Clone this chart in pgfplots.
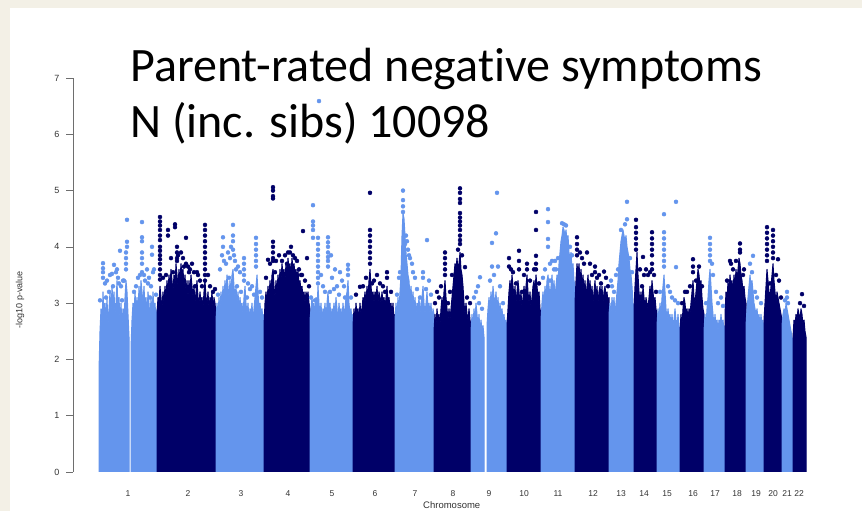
\documentclass[border=0pt]{standalone}
\usepackage{pgfplots}
\pgfplotsset{compat=1.18}
\usepackage{fontspec}
\setmainfont{Liberation Sans}
\newfontfamily\titlefont[Ligatures={NoCommon}]{Carlito}
\definecolor{lblue}{RGB}{100,149,237}
\definecolor{dblue}{RGB}{0,0,104}
\definecolor{beige}{RGB}{243,240,230}
\definecolor{axgray}{RGB}{110,110,110}
\pgfplotsset{
 L/.style={fill=lblue, draw=lblue, line width=1pt, line join=round},
 D/.style={fill=dblue, draw=dblue, line width=1pt, line join=round},
 Lp/.style={only marks, mark=*, mark size=2pt, color=lblue},
 Dp/.style={only marks, mark=*, mark size=2pt, color=dblue},
}
\begin{document}
\begin{tikzpicture}[x=1pt,y=1pt]
\useasboundingbox (0,0) rectangle (862,511);
\fill[beige] (0,0) rectangle (862,511);
\fill[white] (10,0) rectangle (862,503);
\begin{axis}[
 at={(73pt,39pt)}, anchor=south west,
 x=1pt, y=56.286pt,
 xmin=73, xmax=820, ymin=0, ymax=7,
 axis lines=left,
 axis line style={-, draw=axgray, line width=0.6pt},
 x axis line style={draw=none},
 tick align=outside, major tick length=7pt,
 xtick style={draw=none},
 ytick style={draw=axgray, line width=0.6pt},
 ytick={0,1,2,3,4,5,6,7},
 xtick={128,188,241,288,332,375,415,453,489,524,558,593,621,644,667,693,715,737,756,773,787,799},
 xticklabels={1,2,3,4,5,6,7,8,9,10,11,12,13,14,15,16,17,18,19,20,21,22},
 /pgf/number format/assume math mode=true,
 yticklabel style={font=\fontsize{9}{10}\selectfont, text=black!80, xshift=-3pt},
 xticklabel style={font=\fontsize{8.5}{10}\selectfont, text=black!80, yshift=-8pt},
 xlabel={Chromosome}, ylabel={-log10 p-value},
 every axis x label/.style={at={(axis description cs:0.507,0)}, anchor=center, yshift=-33pt, font=\fontsize{9.5}{10}\selectfont, text=black!80},
 every axis y label/.style={at={(axis description cs:-0.071,0.437)}, rotate=90, anchor=center, font=\fontsize{9}{10}\selectfont, text=black!80},
]
% chr1
\addplot[L] coordinates {(99,0)(99,1.8)(100,2.5)(101,2.9)(102,2.6)(103,3.2)(104,2.8)(105,3.0)(106,2.7)(107,3.1)(108,2.6)(109,2.9)(110,3.2)(111,2.8)(112,3.3)(113,3.0)(114,3.2)(115,2.8)(116,3.0)(117,3.4)(118,2.9)(119,3.1)(120,2.7)(121,3.0)(122,2.6)(123,2.9)(124,2.7)(125,3.1)(126,3.4)(127,3.2)(128,2.8)(129,2.4)(129,0)} \closedcycle;
\addplot[L] coordinates {(131,0)(131,2.2)(132,2.7)(133,3.0)(134,2.8)(135,3.2)(136,2.9)(137,3.1)(138,2.8)(139,3.3)(140,3.0)(141,3.4)(142,3.2)(143,3.0)(144,3.3)(145,2.9)(146,3.1)(147,2.8)(148,3.2)(149,3.0)(150,2.7)(151,3.1)(152,2.8)(153,3.2)(154,2.9)(155,3.0)(156,2.7)(157,2.9)(157,0)} \closedcycle;
\addplot[Lp] coordinates {(103,3.45)(103,3.55)(103,3.62)(103,3.71)(105,3.35)(107,3.4)(110,3.5)(112,3.52)(114,3.68)(116,3.55)(117,3.6)(118,3.45)(120,3.93)(121,3.3)(123,3.4)(124,3.4)(126,3.6)(126,3.7)(126,3.8)(126,3.9)(127,4.0)(127,4.09)(127,4.48)
(142,4.44)(142,4.17)(142,4.1)(142,3.9)(142,3.8)(142,3.7)(142,3.55)(138,3.45)(140,3.5)(145,3.4)(147,3.6)(149,3.45)(152,4.0)(152,3.86)(153,3.55)(154,3.6)(151,3.3)
(100,3.05)(106,3.1)(109,3.2)(113,3.3)(119,3.35)(122,3.05)(134,3.2)(136,3.3)(144,3.5)(148,3.35)(150,3.1)(156,3.15)};
% chr2
\addplot[D] coordinates {(157,0)(157,2.8)(158,3.1)(159,3.0)(160,3.3)(161,3.1)(162,2.9)(163,3.2)(164,3.0)(165,3.3)(166,3.1)(167,3.4)(168,3.2)(169,3.5)(170,3.3)(171,3.6)(172,3.4)(173,3.2)(174,3.5)(175,3.3)(176,3.7)(177,3.5)(178,3.3)(179,3.6)(180,3.4)(181,3.7)(182,3.5)(183,3.6)(184,3.3)(185,3.5)(186,3.2)(187,3.4)(188,3.1)(189,3.4)(190,3.2)(191,3.5)(192,3.3)(193,3.1)(194,3.3)(195,3.0)(196,3.2)(197,3.4)(198,3.1)(199,3.0)(200,3.2)(201,3.0)(202,3.1)(203,2.9)(204,3.2)(205,3.4)(206,3.1)(207,3.0)(208,3.2)(209,2.9)(210,3.1)(211,3.0)(212,3.2)(213,2.9)(214,3.1)(215,3.0)(216,2.8)(216,0)} \closedcycle;
\addplot[Dp] coordinates {(160,4.53)(160,4.45)(160,4.38)(160,4.3)(160,4.2)(160,4.12)(160,4.0)(160,3.93)(160,3.85)(160,3.78)(160,3.7)(160,3.6)(160,3.5)(160,3.42)(168,4.3)(168,4.2)(175,4.4)(175,4.35)(177,4.0)(177,3.9)(177,3.8)(177,3.75)(186,4.16)(178,3.85)(181,3.9)(183,3.8)(186,3.7)(188,3.65)(190,3.6)(192,3.7)(194,3.55)(197,3.55)(198,3.5)(205,4.39)(205,4.3)(205,4.2)(205,4.1)(205,4.0)(205,3.9)(205,3.8)(205,3.7)(205,3.6)(205,3.5)(205,3.4)(208,3.5)(210,3.3)
(163,3.45)(166,3.5)(171,3.8)(173,3.55)(184,3.65)(189,3.55)(195,3.3)(200,3.4)(202,3.3)(213,3.2)(215,3.25)};
% chr3
\addplot[L] coordinates {(216,0)(216,2.7)(217,3.0)(218,2.8)(219,3.1)(220,2.9)(221,3.2)(222,3.0)(223,3.3)(224,3.1)(225,3.4)(226,3.2)(227,3.5)(228,3.3)(229,3.1)(230,3.4)(231,3.2)(232,3.5)(233,3.6)(234,3.3)(235,3.1)(236,3.3)(237,3.0)(238,3.2)(239,2.9)(240,3.1)(241,2.9)(242,3.0)(243,2.8)(244,3.1)(245,3.3)(246,3.0)(247,2.8)(248,3.0)(249,2.7)(250,2.9)(251,2.8)(252,3.0)(253,2.7)(254,2.9)(255,3.1)(256,3.3)(257,3.5)(258,3.2)(259,2.9)(260,3.0)(261,2.8)(262,2.9)(263,2.7)(264,2.8)(264,0)} \closedcycle;
\addplot[Lp] coordinates {(223,4.17)(223,4.0)(222,3.85)(224,3.75)(220,3.6)(226,3.7)(228,3.9)(230,3.8)(231,4.0)(233,4.39)(233,4.2)(233,4.1)(233,3.95)(234,3.85)(235,3.75)(236,3.6)(238,3.65)(240,3.55)(244,3.8)(244,3.7)(244,3.6)(244,3.5)(244,3.4)(248,3.35)(252,3.3)(256,4.16)(256,4.05)(256,3.95)(256,3.85)(256,3.75)(256,3.65)(250,3.25)
(218,3.15)(229,3.45)(237,3.3)(241,3.2)(247,3.1)(254,3.15)(260,3.2)(262,3.1)};
% chr4
\addplot[D] coordinates {(264,0)(264,2.6)(265,3.0)(266,3.2)(267,3.0)(268,3.3)(269,3.1)(270,3.4)(271,3.2)(272,3.5)(273,3.6)(274,3.3)(275,3.1)(276,3.4)(277,3.2)(278,3.5)(279,3.3)(280,3.6)(281,3.4)(282,3.7)(283,3.5)(284,3.6)(285,3.4)(286,3.7)(287,3.5)(288,3.8)(289,3.6)(290,3.7)(291,3.5)(292,3.8)(293,3.6)(294,3.7)(295,3.5)(296,3.6)(297,3.4)(298,3.6)(299,3.3)(300,3.4)(301,3.2)(302,3.3)(303,3.1)(304,3.2)(305,3.0)(306,3.2)(307,3.1)(308,3.2)(309,3.0)(310,2.9)(310,0)} \closedcycle;
\addplot[Dp] coordinates {(273,5.06)(273,5.0)(273,4.9)(273,4.86)(273,4.09)(273,4.0)(273,3.9)(273,3.8)(273,3.75)(268,3.77)(270,3.7)(276,3.75)(279,3.85)(282,3.75)(285,3.85)(288,3.9)(290,3.9)(291,4.0)(293,3.85)(295,3.8)(297,3.75)(299,3.6)(303,4.28)(301,3.5)(307,3.8)(305,3.4)
(266,3.45)(275,3.55)(287,3.7)(302,3.5)(309,3.3)};
% chr5
\addplot[L] coordinates {(310,0)(310,2.7)(311,2.9)(312,3.1)(313,2.9)(314,3.0)(315,2.8)(316,3.1)(317,2.9)(318,3.3)(319,3.0)(320,2.8)(321,3.0)(322,2.7)(323,2.9)(324,2.8)(325,3.0)(326,2.7)(327,3.0)(328,3.2)(329,2.9)(330,3.0)(331,2.7)(332,2.9)(333,2.8)(334,3.0)(335,2.8)(336,3.1)(337,2.9)(338,2.7)(339,3.0)(340,2.8)(341,2.9)(342,2.7)(343,3.0)(344,2.8)(345,2.9)(346,3.1)(347,3.2)(348,3.4)(349,3.0)(350,2.8)(351,2.9)(352,2.7)(353,2.8)(353,0)} \closedcycle;
\addplot[Lp] coordinates {(319,6.59)(313,4.74)(313,4.45)(313,4.38)(313,4.3)(313,4.16)(318,4.16)(318,4.05)(318,3.95)(318,3.85)(318,3.75)(318,3.65)(318,3.55)(318,3.45)(318,3.35)(328,4.17)(328,4.08)(328,4.0)(328,3.9)(328,3.82)(328,3.75)(328,3.65)(331,3.85)(332,3.45)(335,3.6)(337,3.3)(340,3.55)(342,3.4)(344,3.3)(348,3.68)(348,3.6)(348,3.5)(323,3.3)(321,3.5)
(311,3.1)(315,3.05)(325,3.2)(330,3.2)(334,3.25)(339,3.15)(345,3.1)(351,3.1)};
% chr6
\addplot[D] coordinates {(353,0)(353,2.6)(354,2.9)(355,2.7)(356,3.0)(357,2.8)(358,2.9)(359,2.7)(360,3.0)(361,2.8)(362,2.9)(363,3.1)(364,3.0)(365,3.2)(366,3.0)(367,3.3)(368,3.1)(369,3.4)(370,3.6)(371,3.3)(372,3.1)(373,3.2)(374,3.0)(375,3.2)(376,3.1)(377,3.3)(378,3.0)(379,3.2)(380,3.1)(381,3.0)(382,3.2)(383,3.0)(384,3.1)(385,2.9)(386,3.1)(387,3.3)(388,3.0)(389,3.1)(390,2.9)(391,3.0)(392,2.8)(393,3.0)(394,2.7)(395,2.8)(395,0)} \closedcycle;
\addplot[Dp] coordinates {(370,4.96)(370,4.3)(370,4.2)(370,4.1)(370,4.0)(370,3.9)(370,3.8)(370,3.7)(360,3.29)(366,3.45)(374,3.4)(377,3.5)(387,3.55)(387,3.45)(380,3.35)(383,3.3)
(356,3.15)(363,3.3)(372,3.35)(385,3.2)(391,3.2)};
% chr7
\addplot[L] coordinates {(395,0)(395,2.7)(396,3.0)(397,2.8)(398,3.1)(399,2.9)(400,3.2)(401,3.5)(402,4.2)(403,4.6)(404,4.5)(405,4.2)(406,3.9)(407,3.7)(408,3.5)(409,3.4)(410,3.1)(411,3.3)(412,3.0)(413,3.2)(414,2.9)(415,3.1)(416,2.8)(417,3.0)(418,2.9)(419,3.1)(420,2.8)(421,3.0)(422,3.1)(423,3.3)(424,3.0)(425,2.8)(426,3.0)(427,3.2)(428,2.9)(429,3.0)(430,2.8)(431,3.0)(432,2.7)(433,2.9)(434,2.8)(434,0)} \closedcycle;
\addplot[Lp] coordinates {(403,5.0)(403,4.83)(403,4.72)(403,4.62)(406,4.2)(407,4.1)(408,3.95)(409,3.85)(410,3.8)(412,3.7)(405,4.05)(400,3.55)(399,3.45)(413,3.55)(415,3.45)(423,3.55)(423,3.45)(427,4.12)(429,3.4)
(397,3.15)(417,3.25)(420,3.1)(426,3.25)(431,3.15)};
% chr8
\addplot[D] coordinates {(434,0)(434,2.5)(435,2.8)(436,2.6)(437,2.9)(438,2.7)(439,2.8)(440,2.6)(441,2.9)(442,3.1)(443,2.9)(444,3.2)(445,3.4)(446,3.1)(447,2.9)(448,2.7)(449,2.9)(450,2.7)(451,2.9)(452,3.1)(453,3.3)(454,3.5)(455,3.7)(456,3.6)(457,3.8)(458,3.6)(459,3.7)(460,3.9)(461,3.6)(462,3.5)(463,3.3)(464,3.0)(465,2.8)(466,3.0)(467,2.8)(468,2.7)(469,2.9)(470,2.7)(471,2.6)(471,0)} \closedcycle;
\addplot[Dp] coordinates {(460,5.04)(460,4.96)(460,4.85)(460,4.78)(460,4.6)(460,4.52)(460,4.45)(460,4.38)(460,4.3)(460,4.2)(460,4.12)(460,4.05)(445,3.9)(445,3.8)(445,3.7)(445,3.6)(445,3.5)(441,3.3)(439,3.1)(465,3.64)(458,3.95)(462,3.85)(452,3.5)(450,3.2)(437,3.2)
(435,3.0)(448,3.0)(467,3.1)(470,3.0)};
% chr9
\addplot[L] coordinates {(471,0)(471,2.5)(472,2.8)(473,2.6)(474,2.9)(475,2.7)(476,3.0)(477,2.8)(478,2.6)(479,2.8)(480,2.5)(481,2.7)(482,2.5)(483,2.6)(484,2.4)(484,0)} \closedcycle;
\addplot[L] coordinates {(487,0)(487,2.6)(488,2.9)(489,3.1)(490,2.9)(491,3.2)(492,3.0)(493,3.3)(494,3.1)(495,3.0)(496,3.2)(497,2.9)(498,3.1)(499,2.8)(500,3.0)(501,2.8)(502,2.9)(503,2.7)(504,2.8)(505,2.6)(506,2.7)(507,2.5)(507,0)} \closedcycle;
\addplot[Lp] coordinates {(480,3.46)(478,3.3)(476,3.2)(474,3.1)(479,3.0)(497,4.96)(496,4.24)(492,4.07)(492,3.65)(498,3.65)(494,3.5)(490,3.4)(500,3.3)(482,2.9)(503,3.0)};
% chr10
\addplot[D] coordinates {(507,0)(507,2.6)(508,2.9)(509,3.2)(510,3.4)(511,3.2)(512,3.5)(513,3.3)(514,3.1)(515,3.3)(516,3.0)(517,3.2)(518,3.4)(519,3.2)(520,3.0)(521,3.2)(522,2.9)(523,3.1)(524,3.3)(525,3.1)(526,3.3)(527,3.5)(528,3.2)(529,3.0)(530,3.2)(531,2.9)(532,3.1)(533,3.3)(534,3.4)(535,3.2)(536,3.5)(537,3.3)(538,3.1)(539,3.2)(540,2.9)(541,2.8)(541,0)} \closedcycle;
\addplot[Dp] coordinates {(509,3.8)(509,3.65)(511,3.6)(519,3.93)(519,3.75)(519,3.6)(527,3.6)(527,3.7)(536,4.62)(536,4.3)(536,3.84)(536,3.7)(536,3.6)(534,3.6)(513,3.55)(524,3.5)(516,3.35)(522,3.2)(530,3.4)(539,3.35)};
% chr11
\addplot[L] coordinates {(541,0)(541,2.7)(542,3.0)(543,3.2)(544,3.0)(545,3.3)(546,3.1)(547,3.4)(548,3.5)(549,3.3)(550,3.1)(551,3.3)(552,3.5)(553,3.2)(554,3.4)(555,3.1)(556,3.3)(557,3.5)(558,3.4)(559,3.7)(560,3.9)(561,4.1)(562,4.2)(563,4.35)(564,4.3)(565,4.2)(566,4.3)(567,4.1)(568,4.2)(569,3.9)(570,3.8)(571,3.9)(572,3.6)(573,3.7)(574,3.4)(575,3.3)(575,0)} \closedcycle;
\addplot[Lp] coordinates {(548,4.67)(548,4.44)(548,4.14)(548,4.0)(545,3.6)(550,3.7)(552,3.75)(556,3.6)(558,3.8)(562,4.42)(564,4.4)(566,4.38)(570,4.0)(572,3.85)(555,3.75)(543,3.45)(550,3.4)(554,3.6)};
% chr12
\addplot[D] coordinates {(575,0)(575,3.0)(576,3.4)(577,3.7)(578,3.5)(579,3.7)(580,3.4)(581,3.6)(582,3.3)(583,3.5)(584,3.2)(585,3.4)(586,3.1)(587,3.3)(588,3.5)(589,3.2)(590,3.4)(591,3.1)(592,3.3)(593,3.0)(594,3.2)(595,3.4)(596,3.1)(597,3.3)(598,3.0)(599,3.2)(600,3.3)(601,3.1)(602,3.3)(603,3.0)(604,3.2)(605,3.3)(606,3.1)(607,3.2)(608,3.0)(609,3.1)(609,0)} \closedcycle;
\addplot[Dp] coordinates {(577,4.17)(577,4.05)(577,3.95)(577,3.85)(587,3.9)(590,3.7)(595,3.65)(595,3.55)(599,3.5)(604,3.56)(606,3.45)(582,3.8)(584,3.7)(580,3.9)(592,3.5)(597,3.45)(601,3.35)(608,3.3)};
% chr13
\addplot[L] coordinates {(609,0)(609,2.8)(610,3.0)(611,2.8)(612,3.1)(613,2.9)(614,3.1)(615,2.8)(616,3.0)(617,3.2)(618,3.4)(619,3.7)(620,3.9)(621,4.1)(622,4.2)(623,4.3)(624,4.2)(625,4.1)(626,4.2)(627,4.0)(628,3.9)(629,3.8)(630,3.6)(631,3.5)(632,3.3)(633,3.0)(634,2.9)(634,0)} \closedcycle;
\addplot[Lp] coordinates {(627,4.8)(627,4.49)(625,4.4)(621,4.3)(611,3.4)(612,3.3)(614,3.2)(616,3.5)(618,3.6)(630,3.8)(632,3.55)};
% chr14
\addplot[D] coordinates {(634,0)(634,2.9)(635,3.3)(636,3.6)(637,3.9)(638,3.5)(639,3.2)(640,3.0)(641,3.2)(642,3.0)(643,3.3)(644,3.1)(645,2.9)(646,3.1)(647,3.0)(648,2.9)(649,3.1)(650,3.3)(651,3.1)(652,3.4)(653,3.2)(654,3.0)(655,3.1)(656,2.9)(657,2.8)(657,0)} \closedcycle;
\addplot[Dp] coordinates {(636,4.48)(636,4.35)(636,4.25)(636,4.15)(636,4.05)(636,3.95)(643,3.82)(646,3.6)(644,3.5)(648,3.5)(650,3.55)(652,4.26)(652,4.15)(652,4.05)(652,3.95)(652,3.85)(652,3.7)(652,3.6)(654,3.5)(640,3.6)(642,3.3)(656,3.2)};
% chr15
\addplot[L] coordinates {(657,0)(657,2.6)(658,2.9)(659,2.7)(660,3.0)(661,2.8)(662,3.1)(663,3.3)(664,3.5)(665,3.2)(666,2.9)(667,2.7)(668,2.9)(669,2.7)(670,2.8)(671,2.6)(672,2.8)(673,2.6)(674,2.7)(675,2.9)(676,2.7)(677,2.6)(678,2.8)(679,2.6)(680,2.5)(680,0)} \closedcycle;
\addplot[Lp] coordinates {(664,4.58)(664,4.26)(664,4.15)(664,4.05)(664,3.95)(664,3.85)(664,3.75)(664,3.65)(676,4.8)(676,3.64)(668,3.3)(670,3.2)(672,3.1)(660,3.2)(675,3.05)(678,3.0)};
% chr16
\addplot[D] coordinates {(680,0)(680,2.5)(681,2.8)(682,2.6)(683,2.9)(684,3.1)(685,3.0)(686,2.8)(687,2.9)(688,2.7)(689,2.9)(690,2.8)(691,3.0)(692,3.2)(693,3.4)(694,3.1)(695,3.0)(696,3.2)(697,3.4)(698,3.6)(699,3.5)(700,3.3)(701,3.4)(702,3.1)(703,2.9)(704,2.8)(704,0)} \closedcycle;
\addplot[Dp] coordinates {(685,3.2)(687,3.2)(693,3.78)(693,3.65)(693,3.55)(699,3.65)(690,3.3)(682,3.0)(696,3.4)(702,3.3)};
% chr17
\addplot[L] coordinates {(704,0)(704,2.5)(705,2.8)(706,2.6)(707,2.9)(708,3.1)(709,3.4)(710,3.6)(711,3.3)(712,3.0)(713,2.8)(714,2.6)(715,2.8)(716,2.6)(717,2.7)(718,2.5)(719,2.7)(720,2.6)(721,2.8)(722,2.6)(723,2.7)(724,2.5)(725,2.6)(725,0)} \closedcycle;
\addplot[Lp] coordinates {(710,4.16)(710,4.05)(710,3.95)(710,3.85)(710,3.75)(712,3.7)(713,3.5)(716,3.2)(718,3.0)(721,3.1)(706,3.0)(723,2.95)};
% chr18
\addplot[D] coordinates {(725,0)(725,2.8)(726,3.2)(727,3.0)(728,3.4)(729,3.2)(730,3.5)(731,3.3)(732,3.4)(733,3.2)(734,3.5)(735,3.3)(736,3.6)(737,3.4)(738,3.6)(739,3.8)(740,3.7)(741,3.5)(742,3.4)(743,3.2)(744,3.3)(745,3.1)(746,3.0)(746,0)} \closedcycle;
\addplot[Dp] coordinates {(740,4.06)(740,3.95)(740,3.9)(730,3.75)(731,3.7)(733,3.6)(736,3.75)(743,3.5)(744,3.6)(727,3.4)};
% chr19
\addplot[L] coordinates {(746,0)(746,2.6)(747,2.9)(748,3.1)(749,3.3)(750,3.5)(751,3.3)(752,3.4)(753,3.2)(754,3.0)(755,2.9)(756,2.8)(757,2.9)(758,2.7)(759,2.8)(760,2.6)(761,2.8)(762,2.6)(763,2.7)(764,2.5)(764,0)} \closedcycle;
\addplot[Lp] coordinates {(753,3.84)(750,3.7)(752,3.55)(755,3.2)(757,3.1)(761,3.0)};
% chr20
\addplot[D] coordinates {(764,0)(764,2.7)(765,3.0)(766,3.3)(767,3.6)(768,3.4)(769,3.2)(770,3.1)(771,3.3)(772,3.5)(773,3.7)(774,3.4)(775,3.2)(776,3.0)(777,3.2)(778,3.1)(779,3.0)(780,2.9)(781,2.8)(782,2.7)(782,0)} \closedcycle;
\addplot[Dp] coordinates {(767,4.35)(767,4.25)(767,4.15)(767,4.05)(767,3.95)(767,3.85)(767,3.75)(773,4.3)(773,4.2)(773,4.1)(773,4.0)(773,3.9)(773,3.8)(778,3.78)(776,3.5)(779,3.4)(770,3.35)(781,3.1)};
% chr21
\addplot[L] coordinates {(782,0)(782,2.6)(783,2.8)(784,2.9)(785,2.8)(786,3.0)(787,2.9)(788,2.8)(789,2.7)(790,2.6)(791,2.5)(792,2.4)(793,2.3)(793,0)} \closedcycle;
\addplot[Lp] coordinates {(787,3.2)(787,3.1)(785,3.05)(788,3.0)};
% chr22
\addplot[D] coordinates {(793,0)(793,2.4)(794,2.7)(795,2.6)(796,2.8)(797,2.7)(798,2.9)(799,2.8)(800,2.7)(801,2.9)(802,2.8)(803,2.6)(804,2.7)(805,2.5)(806,2.4)(806,0)} \closedcycle;
\addplot[Dp] coordinates {(802,3.16)(800,3.0)(804,2.95)};
\end{axis}
\node[anchor=base west, inner sep=0pt, font=\titlefont\fontsize{48}{56}\selectfont] at (130,429) {Parent-rated negative symptoms};
\node[anchor=base west, inner sep=0pt, font=\titlefont\fontsize{48}{56}\selectfont] at (130,373) {N (inc. sibs) 10098};
\end{tikzpicture}
\end{document}
